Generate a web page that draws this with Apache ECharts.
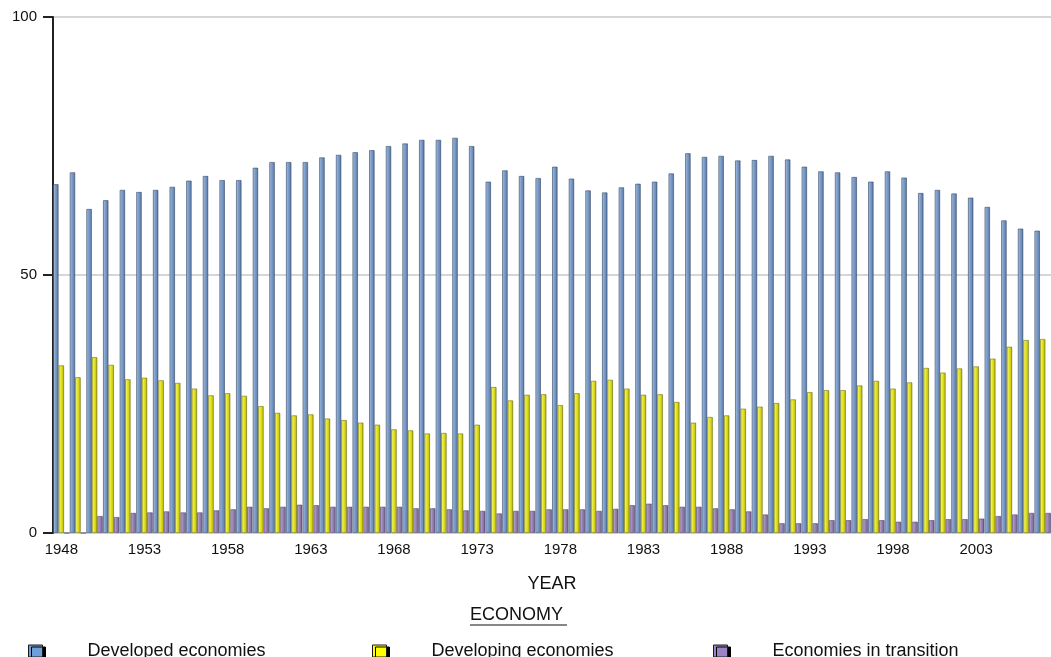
<!DOCTYPE html>
<html>
<head>
<meta charset="utf-8">
<script src="https://cdn.jsdelivr.net/npm/echarts@6/dist/echarts.min.js"></script>
<style>
html,body{margin:0;padding:0;background:#fff;}
#chart{width:1051px;height:657px;}
</style>
</head>
<body>
<div id="chart"></div>
<script>
var years = [];
for (var y = 1948; y <= 2007; y++) years.push(String(y));

var developed = [
  67.6, 69.9, 62.8, 64.5, 66.5, 66.1, 66.5, 67.1, 68.3, 69.2, 68.4, 68.4,
  70.8, 71.9, 71.9, 71.9, 72.8, 73.3, 73.8, 74.2, 75.0, 75.5,
  76.2, 76.2, 76.6, 75.0, 68.1, 70.3, 69.2, 68.8, 71.0, 68.7,
  66.4, 66.0, 67.0, 67.7, 68.1, 69.7, 73.6, 72.9, 73.1, 72.2,
  72.3, 73.1, 72.4, 71.0, 70.1, 69.9, 69.0, 68.1, 70.1, 68.9,
  65.9, 66.5, 65.8, 65.0, 63.2, 60.6, 59.0, 58.6
];
var developing = [
  32.5, 30.2, 34.1, 32.6, 29.8, 30.1, 29.6, 29.1, 28.0, 26.7, 27.1, 26.6,
  24.6, 23.3, 22.8, 23.0, 22.2, 21.9, 21.4, 21.0, 20.1, 19.9,
  19.3, 19.4, 19.3, 21.0, 28.3, 25.7, 26.8, 26.9, 24.8, 27.1,
  29.5, 29.7, 28.0, 26.8, 26.9, 25.4, 21.4, 22.5, 22.8, 24.1,
  24.5, 25.2, 25.9, 27.3, 27.7, 27.7, 28.6, 29.5, 28.0, 29.2,
  32.0, 31.1, 31.9, 32.3, 33.8, 36.1, 37.4, 37.6
];
var transition = [
  0, 0, 3.3, 3.1, 3.9, 4.0, 4.2, 4.0, 4.0, 4.4, 4.6, 5.1,
  4.8, 5.1, 5.5, 5.4, 5.1, 5.1, 5.1, 5.1, 5.1, 4.8,
  4.8, 4.6, 4.4, 4.3, 3.8, 4.3, 4.3, 4.6, 4.6, 4.6,
  4.3, 4.7, 5.4, 5.7, 5.4, 5.1, 5.1, 4.8, 4.6, 4.2,
  3.6, 1.9, 1.9, 1.9, 2.5, 2.5, 2.7, 2.5, 2.2, 2.2,
  2.5, 2.7, 2.7, 2.8, 3.3, 3.6, 3.9, 3.9
];
var seriesNames = ['Developed economies', 'Developing economies', 'Economies in transition'];
var yTicks = [0, 50, 100];

var FONT = "'Liberation Sans', Arial, sans-serif";

function grad(stops) {
  return new echarts.graphic.LinearGradient(0, 0, 1, 0, stops.map(function (s) {
    return { offset: s[0], color: s[1] };
  }));
}
var fills = [
  grad([[0, '#5878a4'], [0.15, '#9fb8dc'], [0.4, '#7f9fcb'], [0.75, '#6888b6'], [1, '#46648e']]),
  grad([[0, '#9a9a0a'], [0.18, '#f4f462'], [0.45, '#e4e426'], [0.78, '#c8c812'], [1, '#848406']]),
  grad([[0, '#66548a'], [0.18, '#b2a2cc'], [0.45, '#9885b5'], [0.78, '#806e9c'], [1, '#584874']])
];
var borders = ['rgba(50,70,100,0.7)', 'rgba(110,110,0,0.7)', 'rgba(80,64,110,0.7)'];
var flat = ['#6f9fd8', '#ffff00', '#9b83c4'];
var dataSets = [developed, developing, transition];

var legendLefts = [23, 367, 708];
var legends = seriesNames.map(function (n, i) {
  return {
    left: legendLefts[i],
    top: 637,
    itemWidth: 14,
    itemHeight: 12,
    icon: 'rect',
    selectedMode: false,
    data: [{ name: n, itemStyle: { color: flat[i], borderColor: '#1a1a1a', borderWidth: 1, shadowColor: '#000', shadowOffsetX: 3, shadowOffsetY: 2, shadowBlur: 0 } }],
    formatter: '{a|{name}}',
    textStyle: {
      rich: { a: { fontFamily: FONT, fontSize: 18, color: '#111', padding: [0, 0, 0, 40] } }
    }
  };
});

var chart = echarts.init(document.getElementById('chart'), null, { renderer: 'canvas' });
chart.setOption({
  animation: false,
  backgroundColor: '#ffffff',
  grid: { left: 53, top: 17, width: 1006, height: 516, containLabel: false },
  legend: legends,
  xAxis: {
    type: 'category',
    data: years,
    name: 'YEAR',
    nameLocation: 'middle',
    nameGap: 42,
    nameTextStyle: { fontFamily: FONT, fontSize: 18, color: '#111' },
    axisLine: { show: false },
    axisTick: { show: false },
    axisLabel: { interval: 4, margin: 9, fontFamily: FONT, fontSize: 15, color: '#111' },
    splitLine: { show: false }
  },
  yAxis: {
    type: 'value',
    min: 0,
    max: 100,
    interval: 50,
    axisLine: { show: true, lineStyle: { color: '#222', width: 2 } },
    axisTick: { show: true, length: 10, lineStyle: { color: '#222', width: 2 } },
    axisLabel: { margin: 16, fontFamily: FONT, fontSize: 15, color: '#111',
      formatter: function (v) { return yTicks.indexOf(v) >= 0 ? String(v) : ''; } },
    splitLine: { show: true, lineStyle: { color: '#d6d6d6', width: 2 } }
  },
  series: seriesNames.map(function (n, i) {
    return {
      name: n,
      type: 'bar',
      data: dataSets[i],
      barGap: '0%',
      barCategoryGap: '1%',
      itemStyle: { color: fills[i], borderColor: borders[i], borderWidth: 0.8 }
    };
  }),
  graphic: [
    { type: 'text', left: 470, top: 606, style: { text: 'ECONOMY', font: '18px ' + FONT, fill: '#111' } },
    { type: 'line', shape: { x1: 470, y1: 625, x2: 567, y2: 625 }, style: { stroke: '#111', lineWidth: 1 } }
  ]
});
</script>
</body>
</html>
